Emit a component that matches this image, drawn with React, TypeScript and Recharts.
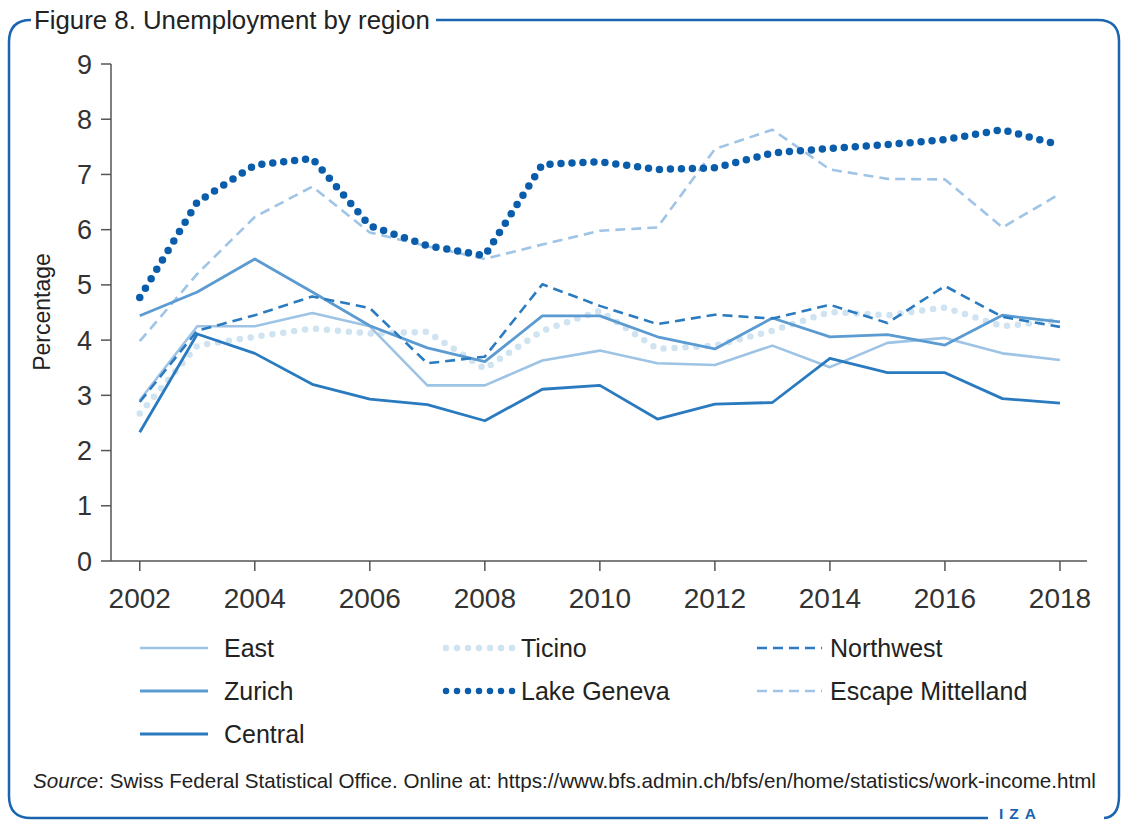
import React from 'react';
import { LineChart, Line, XAxis, YAxis } from 'recharts';

const years = [2002, 2003, 2004, 2005, 2006, 2007, 2008, 2009, 2010, 2011, 2012, 2013, 2014, 2015, 2016, 2017, 2018];
const east = [2.91, 4.25, 4.25, 4.49, 4.25, 3.18, 3.18, 3.63, 3.81, 3.58, 3.55, 3.9, 3.51, 3.95, 4.04, 3.76, 3.64];
const zurich = [4.44, 4.87, 5.47, 4.87, 4.26, 3.86, 3.61, 4.44, 4.44, 4.06, 3.84, 4.4, 4.06, 4.1, 3.91, 4.45, 4.33];
const central = [2.33, 4.11, 3.76, 3.2, 2.93, 2.83, 2.54, 3.11, 3.18, 2.57, 2.84, 2.87, 3.67, 3.41, 3.41, 2.94, 2.86];
const ticino = [2.67, 3.9, 4.06, 4.21, 4.12, 4.15, 3.48, 4.17, 4.53, 3.84, 3.9, 4.17, 4.51, 4.45, 4.59, 4.25, 4.36];
const lakeGeneva = [4.77, 6.5, 7.17, 7.29, 6.07, 5.71, 5.53, 7.18, 7.23, 7.09, 7.12, 7.39, 7.47, 7.54, 7.63, 7.81, 7.53];
const northwest = [2.88, 4.17, 4.45, 4.79, 4.58, 3.58, 3.7, 5.01, 4.62, 4.29, 4.46, 4.39, 4.64, 4.31, 4.98, 4.42, 4.24];
const escapeMittelland = [3.98, 5.2, 6.23, 6.78, 5.95, 5.7, 5.47, 5.73, 5.98, 6.04, 7.46, 7.81, 7.09, 6.92, 6.91, 6.04, 6.65];

const xTicks = [2002, 2004, 2006, 2008, 2010, 2012, 2014, 2016, 2018];
const yTicks = [0, 1, 2, 3, 4, 5, 6, 7, 8, 9];

const data = years.map((year, i) => ({
  year,
  East: east[i],
  Zurich: zurich[i],
  Central: central[i],
  Ticino: ticino[i],
  'Lake Geneva': lakeGeneva[i],
  Northwest: northwest[i],
  'Escape Mittelland': escapeMittelland[i],
}));

type Style = { color: string; width: number; dash?: string; round?: boolean };
const styles: Record<string, Style> = {
  East: { color: '#9dc3e5', width: 2.6 },
  Zurich: { color: '#5b9bd1', width: 2.8 },
  Central: { color: '#2a7abf', width: 2.8 },
  Ticino: { color: '#cfe3f1', width: 6.5, dash: '0 11', round: true },
  'Lake Geneva': { color: '#0a5daa', width: 7.5, dash: '0 11', round: true },
  Northwest: { color: '#2b7bc0', width: 2.6, dash: '10 6' },
  'Escape Mittelland': { color: '#9fc4e6', width: 2.6, dash: '10 6' },
};

const drawOrder = ['Ticino', 'Escape Mittelland', 'East', 'Zurich', 'Northwest', 'Central', 'Lake Geneva'];

const legendCols = [
  { x: 140, len: 68, gap: 16, items: ['East', 'Zurich', 'Central'] },
  { x: 443, len: 72, gap: 6, items: ['Ticino', 'Lake Geneva'] },
  { x: 757, len: 65, gap: 8, items: ['Northwest', 'Escape Mittelland'] },
];
const legendRowsY = [648, 691, 734];

const FONT = '"Liberation Sans", Arial, sans-serif';
const FRAME = '#1a64b0';

export default function App() {
  return (
    <div style={{ position: 'absolute', left: 0, top: 0, width: 1124, height: 821, background: '#fff', fontFamily: FONT }}>
      <svg width={1124} height={821} style={{ position: 'absolute', left: 0, top: 0 }}>
        <path d="M 31 20 Q 9 20 9 42 L 9 796 Q 9 818 31 818 L 988 818" fill="none" stroke={FRAME} strokeWidth={2.5} />
        <path d="M 436 20 L 1098 20 Q 1119 20 1119 41 L 1119 796 Q 1119 817 1104 818" fill="none" stroke={FRAME} strokeWidth={2.5} />
        <text x={34} y={29} fontSize={25.8} fill="#222" fontFamily={FONT}>Figure 8. Unemployment by region</text>
        <text x={33} y={788} fontSize={20.6} fill="#222" fontFamily={FONT}>
          <tspan fontStyle="italic">Source</tspan>: Swiss Federal Statistical Office. Online at: https://www.bfs.admin.ch/bfs/en/home/statistics/work-income.html
        </text>
        <text x={999} y={818.5} fontSize={15.5} fontWeight="bold" fill={FRAME} letterSpacing={6} fontFamily={FONT}>IZA</text>
        <text transform="translate(50 312) rotate(-90)" textAnchor="middle" fontSize={23} fill="#222" fontFamily={FONT}>Percentage</text>
        {legendCols.map((col) =>
          col.items.map((name, r) => {
            const s = styles[name];
            const y = legendRowsY[r];
            return (
              <g key={name}>
                <line x1={col.x + (s.round ? 3 : 0)} x2={col.x + col.len} y1={y} y2={y} stroke={s.color} strokeWidth={s.round ? 6.5 : s.width} strokeDasharray={s.dash} strokeLinecap={s.round ? 'round' : 'butt'} />
                <text x={col.x + col.len + col.gap} y={y + 9} fontSize={25} fill="#222" fontFamily={FONT}>{name}</text>
              </g>
            );
          })
        )}
      </svg>
      <div style={{ position: 'absolute', left: 0, top: 0 }}>
        <LineChart width={1124} height={640} data={data} margin={{ top: 64, right: 37, bottom: 29, left: 51 }}>
          <XAxis
            dataKey="year"
            type="number"
            domain={[2001.5, 2018.47]}
            ticks={xTicks}
            height={50}
            tickSize={10}
            tickMargin={17}
            axisLine={{ stroke: '#555', strokeWidth: 1.5 }}
            tickLine={{ stroke: '#555', strokeWidth: 1.5 }}
            tick={{ fontSize: 28, fill: '#333', fontFamily: FONT }}
            interval={0}
          />
          <YAxis
            type="number"
            domain={[0, 9]}
            ticks={yTicks}
            width={60}
            tickSize={10}
            tickMargin={9}
            axisLine={{ stroke: '#555', strokeWidth: 1.5 }}
            tickLine={{ stroke: '#555', strokeWidth: 1.5 }}
            tick={{ fontSize: 27, fill: '#333', fontFamily: FONT }}
            interval={0}
          />
          {drawOrder.map((name) => {
            const s = styles[name];
            return (
              <Line
                key={name}
                dataKey={name}
                type="linear"
                stroke={s.color}
                strokeWidth={s.width}
                strokeDasharray={s.dash}
                strokeLinecap={s.round ? 'round' : 'butt'}
                strokeLinejoin="round"
                dot={false}
                activeDot={false}
                isAnimationActive={false}
              />
            );
          })}
        </LineChart>
      </div>
    </div>
  );
}
